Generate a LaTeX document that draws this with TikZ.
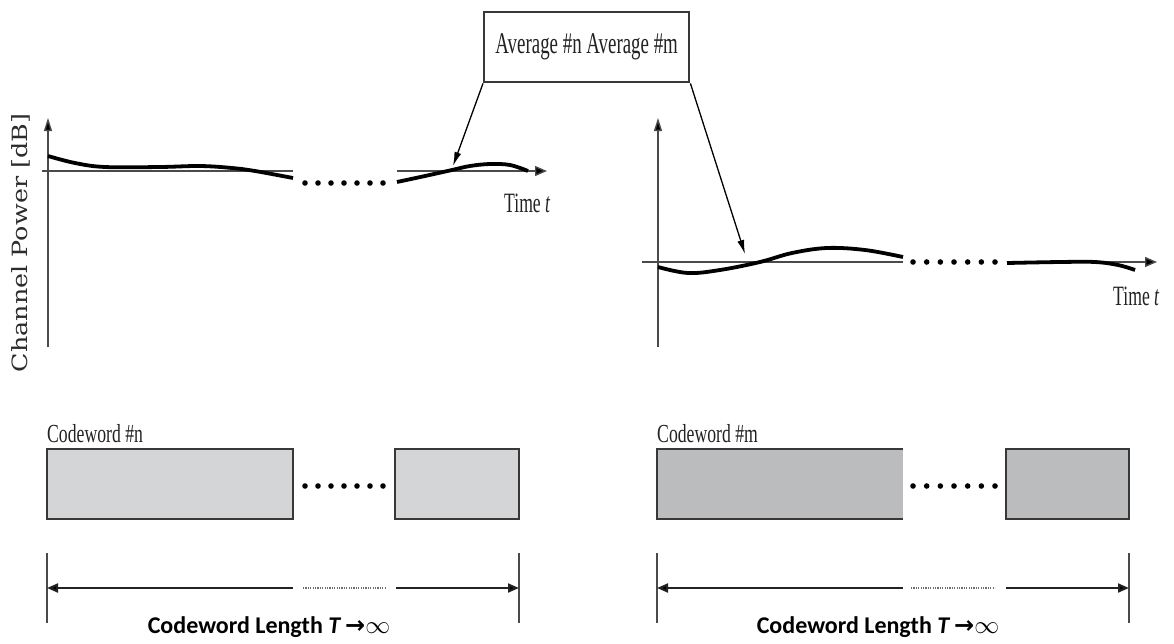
\documentclass[tikz,border=0pt]{standalone}
\usepackage{fontspec}
\setmainfont{Liberation Serif}
\newfontfamily\boldlabel{Carlito}
\newfontfamily\axisfont{DejaVu Serif}
\newfontfamily\symfont{DejaVu Sans}
\usetikzlibrary{arrows.meta}

\definecolor{inkgray}{HTML}{222222}
\definecolor{axisgray}{HTML}{4A4A4A}
\definecolor{lightcw}{HTML}{D4D5D7}
\definecolor{darkcw}{HTML}{BBBCBE}
\definecolor{boxline}{HTML}{383838}
\definecolor{dotgray}{HTML}{6E6E6E}
\definecolor{labelgray}{HTML}{2C2C2C}

% condensed serif lettering
\newcommand\narrowtext[1]{\scalebox{0.63}[1]{#1}}

\tikzset{
  axisline/.style={draw=axisgray, line width=1.4pt},
  axisarrow/.style={axisline, -{Triangle[length=12pt,width=10pt,fill=black]}},
  yarrow/.style={axisline, -{Triangle[length=13pt,width=8pt,fill=black]}},
  signal/.style={draw=black, line width=3.8pt},
  pointer/.style={draw=black, line width=1.3pt, -{Latex[length=14pt,width=7pt]}},
  cwbox/.style={draw=boxline, line width=2.4pt},
  dimline/.style={draw=inkgray, line width=2pt},
  dimdots/.style={draw=dotgray, line width=1.6pt, dash pattern=on 1.2pt off 1.2pt},
  tickline/.style={draw=axisgray, line width=1.5pt},
  sertext/.style={text=inkgray, inner sep=0pt},
  lenlabel/.style={inner sep=0pt, anchor=base, font=\boldlabel\bfseries\fontsize{24}{26}\selectfont}
}

\newcommand\dotrow[3]{% first x, last x, y
  \foreach \k in {0,...,6}
    \fill[black] ({#1+\k*(#2-#1)/6},#3) circle (2.8);
}

\begin{document}
\begin{tikzpicture}[x=1pt,y=-1pt]
\useasboundingbox (0,0) rectangle (1174,643);

% ---------- average box and pointers ----------
\node[cwbox, minimum width=205pt, minimum height=70pt, inner sep=0pt, anchor=north west,
      font=\fontsize{30}{32}\selectfont, text=inkgray] (avg) at (483,11)
      {\narrowtext{Average \#n Average \#m}};
\coordinate (tipL) at (453,166);
\coordinate (tipR) at (745,254);

% ---------- left graph ----------
\coordinate (yLb) at (48,347);
\coordinate (yLt) at (48,118);
\draw[yarrow] (yLb) -- (yLt);
\draw[axisline] (42,171) -- (293,171);
\draw[axisarrow] (397,171) -- (547,171);
\draw[signal] plot[smooth, tension=0.6] coordinates
  {(48,156) (75,163) (105,167) (160,167) (200,166) (232,168) (255,171) (293,178)};
\draw[signal] plot[smooth, tension=0.6] coordinates
  {(397,182) (425,176) (452,170) (470,166) (490,164) (510,165) (528,171)};
\dotrow{305}{383}{183}
\node[sertext, anchor=west, font=\fontsize{28}{30}\selectfont] (timeL) at (504,203)
  {\narrowtext{Time \textit{t}}};
\node[sertext, rotate=90, font=\axisfont\fontsize{21}{23}\selectfont, text=labelgray] (ylab) at (21,243)
  {\scalebox{1.21}[1]{Channel Power [dB]}};

% ---------- right graph ----------
\coordinate (yRb) at (658,347);
\coordinate (yRt) at (658,118);
\draw[yarrow] (yRb) -- (yRt);
\draw[axisline] (642,262) -- (903,262);
\draw[axisarrow] (1007,262) -- (1157,262);
\draw[signal] plot[smooth, tension=0.6] coordinates
  {(658,267) (688,273) (720,270) (760,262) (792,253) (827,248) (865,250) (903,257)};
\draw[signal] plot[smooth, tension=0.6] coordinates
  {(1007,263) (1060,262) (1095,262) (1118,265) (1135,270)};
\dotrow{913}{995}{262}
\node[sertext, anchor=west, font=\fontsize{28}{30}\selectfont] (timeR) at (1113,296)
  {\narrowtext{Time \textit{t}}};

% pointers from the average box
\draw[pointer] (avg.south west) -- (tipL);
\draw[pointer] (avg.south east) -- (tipR);

% ---------- codeword #n ----------
\node[sertext, anchor=west, font=\fontsize{26}{28}\selectfont] (cwn) at (47,434)
  {\scalebox{0.68}[1]{Codeword \#n}};
\draw[cwbox, fill=lightcw] (47,449) rectangle (293,519);
\draw[cwbox, fill=lightcw] (395,449) rectangle (519,519);
\dotrow{305}{383}{486}

% ---------- codeword #m ----------
\node[sertext, anchor=west, font=\fontsize{26}{28}\selectfont] (cwm) at (657,434)
  {\scalebox{0.68}[1]{Codeword \#m}};
\fill[darkcw] (657,449) rectangle (903,519);
\draw[cwbox] (903,449) -- (657,449) -- (657,519) -- (903,519);
\draw[cwbox, fill=darkcw] (1006,449) rectangle (1129,519);
\dotrow{913}{995}{486}

% ---------- length brackets ----------
\coordinate (aL1) at (47,588);  \coordinate (aL2) at (519,588);
\coordinate (aR1) at (657,588); \coordinate (aR2) at (1129,588);
\draw[tickline] (47,553) -- (47,623);
\draw[tickline] (519,553) -- (519,623);
\draw[tickline] (657,553) -- (657,623);
\draw[tickline] (1129,553) -- (1129,623);
\draw[dimline, {Triangle[length=11pt,width=9pt,fill=black]}-] (aL1) -- (293,588);
\draw[dimdots] (303,588) -- (386,588);
\draw[dimline, -{Triangle[length=11pt,width=9pt,fill=black]}] (396,588) -- (aL2);
\draw[dimline, {Triangle[length=11pt,width=9pt,fill=black]}-] (aR1) -- (903,588);
\draw[dimdots] (911,588) -- (995,588);
\draw[dimline, -{Triangle[length=11pt,width=9pt,fill=black]}] (1006,588) -- (aR2);

\node[lenlabel] (lenL) at (269,633)
  {Codeword Length \textit{T}\,{\symfont\bfseries →}{\fontsize{26}{28}\selectfont$\infty$}};
\node[lenlabel] (lenR) at (878,633)
  {Codeword Length \textit{T}\,{\symfont\bfseries →}{\fontsize{26}{28}\selectfont$\infty$}};
\end{tikzpicture}
\end{document}
